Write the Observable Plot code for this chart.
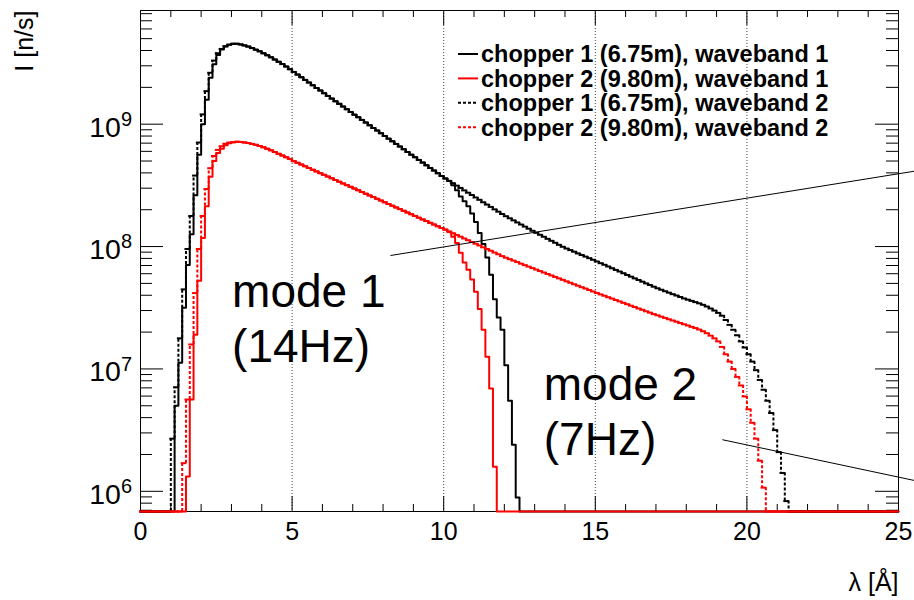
<!DOCTYPE html>
<html><head><meta charset="utf-8">
<script src="https://cdn.jsdelivr.net/npm/d3@7"></script>
<script src="https://cdn.jsdelivr.net/npm/@observablehq/plot@0.6"></script>
<style>body{margin:0;background:#fff}#chart{width:914px;height:600px}</style>
</head><body><div id="chart"></div>
<script>
// ---- data: log10(I [n/s]) per wavelength bin (bin width 0.125 Å) ----
const binWidth = 0.125;
const lambdaDomain = [0, 25];
const logYDomain = [5.835, 9.929];

// chopper 1 (6.75m)
const c1Rise_wb1 = [6.70, 7.05, 7.50, 7.85, 8.10, 8.42, 8.75, 9.00, 9.20, 9.38, 9.49, 9.565, 9.61, 9.635, 9.65];
const c1Rise_wb2 = [6.43, 6.85, 7.25, 7.65, 7.98, 8.25, 8.58, 8.85, 9.08, 9.27, 9.42, 9.52, 9.58, 9.615, 9.637, 9.65];
const c1Mid = [9.657, 9.657, 9.652, 9.644, 9.634, 9.622, 9.609, 9.595,
  9.579, 9.563, 9.546, 9.528, 9.510, 9.491, 9.471, 9.449,
  9.427, 9.405, 9.384, 9.362, 9.340, 9.318, 9.296, 9.275,
  9.253, 9.231, 9.209, 9.187, 9.166, 9.144, 9.122, 9.100,
  9.078, 9.057, 9.035, 9.013, 8.991, 8.969, 8.948, 8.926,
  8.904, 8.882, 8.860, 8.839, 8.817, 8.795, 8.773, 8.751,
  8.730, 8.708, 8.686, 8.664, 8.642, 8.621, 8.599, 8.577];
const c1Fall_wb1 = [8.556, 8.535, 8.50, 8.46, 8.41, 8.37, 8.33, 8.27,
  8.20, 8.11, 8.02, 7.91, 7.77, 7.57, 7.42, 7.32,
  7.03, 6.74, 6.38, 5.95];
const c1Tail_wb2 = [8.556, 8.537, 8.518, 8.498, 8.479, 8.459, 8.440, 8.421,
  8.401, 8.382, 8.362, 8.343, 8.324, 8.304, 8.285, 8.266,
  8.248, 8.231, 8.214, 8.197, 8.180, 8.163, 8.146, 8.129,
  8.112, 8.096, 8.080, 8.063, 8.047, 8.031, 8.014, 7.998,
  7.984, 7.971, 7.958, 7.944, 7.931, 7.918, 7.905, 7.892,
  7.878, 7.864, 7.851, 7.837, 7.823, 7.809, 7.796, 7.782,
  7.768, 7.754, 7.740, 7.727, 7.713, 7.699, 7.686, 7.672,
  7.659, 7.647, 7.635, 7.623, 7.611, 7.600, 7.588, 7.576,
  7.566, 7.556, 7.546, 7.536, 7.524, 7.510, 7.494, 7.477,
  7.458, 7.435, 7.400, 7.360, 7.320, 7.275, 7.225, 7.175,
  7.12, 7.06, 6.99, 6.91, 6.83, 6.74, 6.64, 6.50,
  6.32, 6.15, 5.92];

// chopper 2 (9.80m)
const c2Rise_wb1 = [6.12, 6.75, 7.28, 7.72, 8.07, 8.33, 8.57, 8.70, 8.765, 8.80, 8.828, 8.845];
const c2Rise_wb2 = [6.23, 6.75, 7.20, 7.62, 7.98, 8.25, 8.47, 8.64, 8.74, 8.79, 8.82, 8.84, 8.85];
const c2Mid = [8.852, 8.856, 8.855, 8.851, 8.846, 8.839, 8.831, 8.822,
  8.811, 8.799, 8.786, 8.772, 8.758, 8.744, 8.730, 8.716,
  8.698, 8.684, 8.670, 8.656, 8.642, 8.628, 8.614, 8.600,
  8.586, 8.572, 8.558, 8.544, 8.530, 8.516, 8.502, 8.488,
  8.474, 8.460, 8.446, 8.432, 8.418, 8.404, 8.390, 8.376,
  8.362, 8.348, 8.334, 8.320, 8.306, 8.292, 8.278, 8.264,
  8.250, 8.236, 8.222, 8.208, 8.194, 8.180, 8.166, 8.152];
const c2Fall_wb1 = [8.14, 8.12, 8.08, 8.03, 7.95, 7.87, 7.81, 7.73,
  7.63, 7.49, 7.32, 7.10, 6.84, 6.20];
const c2Tail_wb2 = [8.138, 8.124, 8.109, 8.095, 8.081, 8.066, 8.052, 8.037,
  8.023, 8.009, 7.994, 7.980, 7.966, 7.951, 7.937, 7.922,
  7.909, 7.897, 7.885, 7.873, 7.860, 7.848, 7.836, 7.824,
  7.812, 7.800, 7.788, 7.776, 7.764, 7.752, 7.740, 7.728,
  7.716, 7.704, 7.692, 7.680, 7.668, 7.657, 7.645, 7.633,
  7.621, 7.609, 7.598, 7.586, 7.575, 7.563, 7.552, 7.540,
  7.529, 7.517, 7.506, 7.494, 7.483, 7.471, 7.460, 7.448,
  7.438, 7.427, 7.417, 7.406, 7.396, 7.386, 7.375, 7.365,
  7.355, 7.344, 7.334, 7.322, 7.308, 7.292, 7.272, 7.250,
  7.225, 7.180, 7.120, 7.060, 7.000, 6.935, 6.865, 6.775,
  6.670, 6.560, 6.430, 6.250, 6.030];

const seriesLabels = [
  "chopper 1 (6.75m), waveband 1",
  "chopper 2 (9.80m), waveband 1",
  "chopper 1 (6.75m), waveband 2",
  "chopper 2 (9.80m), waveband 2"
];
const seriesStart = [1.125, 1.5, 1.0, 1.375]; // lower edge of first filled bin [Å]
const seriesLog = [
  [...c1Rise_wb1, ...c1Mid, ...c1Fall_wb1],
  [...c2Rise_wb1, ...c2Mid, ...c2Fall_wb1],
  [...c1Rise_wb2, ...c1Mid, ...c1Tail_wb2],
  [...c2Rise_wb2, ...c2Mid, ...c2Tail_wb2]
];
const seriesColor = ["#000000", "#ff0000", "#000000", "#ff0000"];
const seriesDashed = [false, false, true, true];

// axes
const xMajorTicks = [0, 5, 10, 15, 20, 25];
const xMinorTicks = [1,2,3,4,6,7,8,9,11,12,13,14,16,17,18,19,21,22,23,24];
const xGrid = [5, 10, 15, 20];
const yMajorTicks = [1e6, 1e7, 1e8, 1e9];
const yMajorBase = ["10", "10", "10", "10"];
const yMajorExp = ["6", "7", "8", "9"];
const yMinorTicks = [7e5,8e5,9e5,2e6,3e6,4e6,5e6,6e6,7e6,8e6,9e6,2e7,3e7,4e7,5e7,6e7,7e7,8e7,9e7,
  2e8,3e8,4e8,5e8,6e8,7e8,8e8,9e8,2e9,3e9,4e9,5e9,6e9,7e9,8e9];
const xTitle = "\u03bb [\u00c5]";
const yTitle = "I [n/s]";

// annotations
const annoText = ["mode 1\n(14Hz)", "mode 2\n(7Hz)"];
const annoX = [3.02, 13.30];
const annoY = [1.135e7, 1.963e6];
const annoLineX1 = [8.245, 19.19];
const annoLineY1 = [8.45e7, 2.64e6];
const annoLineX2 = [25.53, 25.53];
const annoLineY2 = [4.13e8, 1.225e6];

// ---- build ----
const W = 914, H = 600, mL = 140, mR = 16, mT = 10, mB = 89;
const frameW = W - mL - mR, frameH = H - mT - mB;
const yMin = 10 ** logYDomain[0];
const nBins = Math.round((lambdaDomain[1] - lambdaDomain[0]) / binWidth);

function rowsFor(s) {
  const start = Math.round(seriesStart[s] / binWidth);
  const vals = seriesLog[s];
  const rows = [];
  for (let i = 0; i < nBins; i++) {
    const v = vals[i - start];
    const y = v === undefined ? yMin : 10 ** v;
    const prev = rows.length ? rows[rows.length - 1].y : yMin;
    rows.push({x0: i * binWidth, x1: (i + 1) * binWidth, y, prev});
  }
  return rows;
}

const histMarks = [];
seriesLog.forEach((_, s) => {
  const rows = rowsFor(s);
  if (!seriesDashed[s]) {
    const pts = rows.map(r => ({x: r.x0, y: r.y}));
    pts.push({x: rows[rows.length - 1].x1, y: rows[rows.length - 1].y});
    histMarks.push(Plot.line(pts, {x: "x", y: "y", curve: "step-after", stroke: seriesColor[s], strokeWidth: 2}));
  } else {
    histMarks.push(Plot.ruleY(rows, {y: "y", x1: "x0", x2: "x1", stroke: seriesColor[s], strokeWidth: 2, strokeLinecap: "square"}));
    histMarks.push(Plot.ruleX(rows.filter(r => r.prev !== r.y), {x: "x0", y1: "prev", y2: "y", stroke: seriesColor[s], strokeWidth: 2, strokeDasharray: "3,2"}));
  }
});

const svg = Plot.plot({
  width: W, height: H,
  marginLeft: mL, marginRight: mR, marginTop: mT, marginBottom: mB,
  style: {fontFamily: "'Liberation Sans', Arial, sans-serif", background: "#fff", color: "#000", overflow: "visible"},
  x: {domain: lambdaDomain, axis: null},
  y: {type: "log", domain: [yMin, 10 ** logYDomain[1]], axis: null},
  marks: [
    Plot.ruleX(xGrid, {x: d => d, stroke: "#444", strokeWidth: 1, strokeDasharray: "1,2"}),
    Plot.frame({stroke: "#000", strokeWidth: 1}),
    Plot.tickX(xMajorTicks, {x: d => d, insetTop: frameH - 15, stroke: "#000"}),
    Plot.tickX(xMajorTicks, {x: d => d, insetBottom: frameH - 15, stroke: "#000"}),
    Plot.tickX(xMinorTicks, {x: d => d, insetTop: frameH - 7, stroke: "#000"}),
    Plot.tickX(xMinorTicks, {x: d => d, insetBottom: frameH - 7, stroke: "#000"}),
    Plot.tickY(yMajorTicks, {y: d => d, insetRight: frameW - 23, stroke: "#000"}),
    Plot.tickY(yMajorTicks, {y: d => d, insetLeft: frameW - 23, stroke: "#000"}),
    Plot.tickY(yMinorTicks, {y: d => d, insetRight: frameW - 12, stroke: "#000"}),
    Plot.tickY(yMinorTicks, {y: d => d, insetLeft: frameW - 12, stroke: "#000"}),
    Plot.text(xMajorTicks, {x: d => d, frameAnchor: "bottom", dy: 20, lineAnchor: "middle", text: d => String(d), fontSize: 25, fill: "#000"}),
    Plot.text([xTitle], {frameAnchor: "bottom-right", dy: 71, textAnchor: "end", lineAnchor: "middle", text: d => d, fontSize: 25, fill: "#000"}),
    Plot.text([yTitle], {frameAnchor: "top-left", dx: -116, rotate: -90, textAnchor: "end", lineAnchor: "middle", text: d => d, fontSize: 25, fill: "#000"}),
    ...histMarks,
    Plot.link([0, 1], {x1: i => annoLineX1[i], y1: i => annoLineY1[i], x2: i => annoLineX2[i], y2: i => annoLineY2[i], stroke: "#000", strokeWidth: 1}),
    Plot.text([0, 1], {x: i => annoX[i], y: i => annoY[i], text: i => annoText[i], textAnchor: "start", lineAnchor: "bottom", lineHeight: 1.2, fontSize: 46, fill: "#000"})
  ]
});

const root = d3.select(svg);
// y tick labels with real superscripts, positioned through Plot's y scale
const yScale = svg.scale("y");
const yl = root.append("g").attr("font-family", "'Liberation Sans', Arial, sans-serif").attr("fill", "#000");
yMajorTicks.forEach((v, i) => {
  const py = yScale.apply(v);
  const t = yl.append("text").attr("x", mL - 8).attr("y", py + 13).attr("text-anchor", "end");
  t.append("tspan").attr("font-size", 28.5).text(yMajorBase[i]);
  t.append("tspan").attr("font-size", 20).attr("dy", -10.7).text(yMajorExp[i]);
});

// legend
const lg = root.append("g").attr("font-family", "'Liberation Sans', Arial, sans-serif");
seriesLabels.forEach((lab, i) => {
  const y = 54 + i * 24.4;
  lg.append("line").attr("x1", 458).attr("x2", 478).attr("y1", y).attr("y2", y)
    .attr("stroke", seriesColor[i]).attr("stroke-width", 2)
    .attr("stroke-dasharray", seriesDashed[i] ? "3,2" : null);
  lg.append("text").attr("x", 481).attr("y", y).attr("dy", "0.36em").attr("text-anchor", "start")
    .attr("font-weight", "bold").attr("font-size", 23.5).attr("fill", "#000").text(lab);
});

document.getElementById("chart").appendChild(svg);
</script>
</body></html>
